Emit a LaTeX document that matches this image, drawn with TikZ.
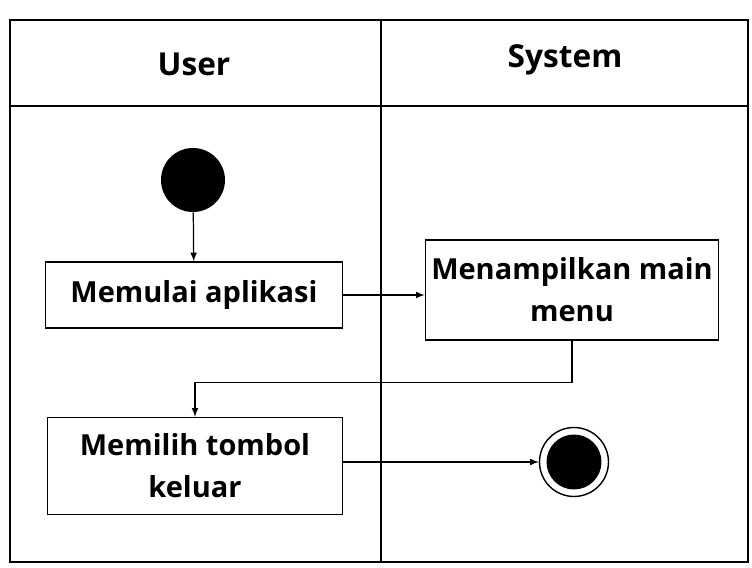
\documentclass[tikz,border=0pt]{standalone}
\usepackage{fontspec}
\setmainfont{Open Sans}
\usetikzlibrary{arrows}
\usetikzlibrary{positioning}

\begin{document}
\begin{tikzpicture}[x=0.02cm,y=-0.02cm]
  \tikzset{act/.style={draw, fill=white, line width=0.8pt, align=center, font=\fontsize{16.5}{24}\selectfont\bfseries}}
  \tikzset{lane/.style={font=\fontsize{18}{20}\selectfont\bfseries}}
  \tikzset{line/.style={draw, ->, >=latex, line width=0.7pt}}

  \useasboundingbox (0,0) rectangle (752,568);

  % swimlanes
  \draw[line width=0.9pt] (10,20) rectangle (748,562);
  \draw[line width=0.9pt] (10,106) -- (748,106);
  \draw[line width=0.9pt] (381,20) -- (381,562);
  \node[lane] (user) at (194,64) {User};
  \node[lane] (system) at (565,60) {System};

  % nodes
  \node[circle, fill=black, minimum size=1.28cm, inner sep=0pt] (start) at (193,180) {};
  \node[act, minimum width=5.94cm, minimum height=1.32cm] (mulai) at (194,295) {Memulai aplikasi};
  \node[act, minimum width=5.86cm, minimum height=2cm] (menu) at (572,290) {Menampilkan main\\menu};
  \node[act, minimum width=5.9cm, minimum height=1.94cm] (keluar) at (195,466) {Memilih tombol\\keluar};
  \node[circle, draw, line width=0.8pt, minimum size=1.38cm, inner sep=0pt] (end) at (574,462) {};
  \node[circle, fill=black, minimum size=1.1cm, inner sep=0pt] at (end) {};

  % flows
  \path[line] (start) -- (mulai);
  \path[line] (mulai.east |- 0,295) -- (menu.west |- 0,295);
  \path[line] (menu.south) -- ++(0,42) -| (keluar.north);
  \path[line] (keluar.east |- 0,462) -- (end.west);

\end{tikzpicture}
\end{document}
